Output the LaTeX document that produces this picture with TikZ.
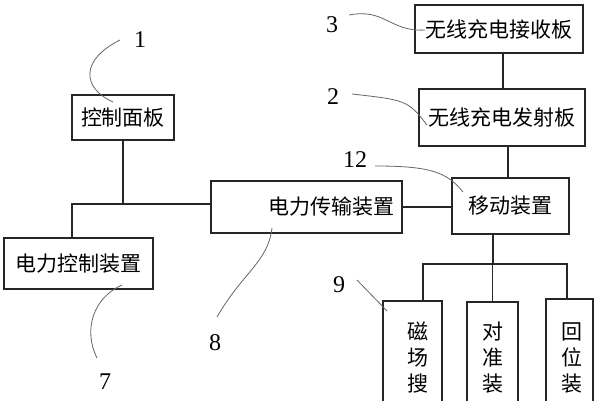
\documentclass[tikz,border=0pt]{standalone}
\usepackage{fontspec}
\newfontfamily\cjk{Noto Sans CJK SC}
\newfontfamily\numf{Liberation Serif}
\begin{document}
\begin{tikzpicture}[x=1pt,y=-1pt,
  box/.style={draw=black!85, line width=1.8pt, inner sep=0pt, font=\cjk\fontsize{21}{24}\selectfont},
  conn/.style={draw=black!85, line width=1.8pt},
  leader/.style={draw=black!60, line width=0.8pt},
  num/.style={font=\numf\fontsize{24}{26}\selectfont, inner sep=0pt},
  vtext/.style={font=\cjk\fontsize{21}{26}\selectfont, align=center, inner sep=0pt}]
\useasboundingbox (0,0) rectangle (598,400);
\fill[white] (0,0) rectangle (598,400);
% boxes
\node[box, minimum width=102pt, minimum height=45pt] (ctrl) at (123,117.5) {控制面板};
\node[box, minimum width=149pt, minimum height=51pt] (pctrl) at (78.5,263.5) {电力控制装置};
\node[box, minimum height=52pt, text width=175pt, inner xsep=8pt, align=right] (trans) at (306.5,207) {电力传输装置};
\node[box, minimum width=168pt, minimum height=48pt] (recv) at (499,29) {无线充电接收板};
\node[box, minimum width=166pt, minimum height=57pt] (emit) at (502,117.5) {无线充电发射板};
\node[box, minimum width=117pt, minimum height=56pt] (move) at (510.5,206) {移动装置};
\node[box, minimum width=59pt, minimum height=120pt] (mag) at (412.5,361) {};
\node[box, minimum width=51pt, minimum height=120pt] (align) at (492.5,362) {};
\node[box, minimum width=47pt, minimum height=120pt] (ret) at (569.5,359) {};
\node[vtext] (magt) at (418,358) {磁\\场\\搜};
\node[vtext] (alignt) at (493,358) {对\\准\\装};
\node[vtext] (rett) at (572,358) {回\\位\\装};
% connectors
\coordinate (jl) at (72,204);
\draw[conn] (ctrl.south) -- (ctrl.south |- jl);
\draw[conn] (pctrl.north -| jl) -- (jl) -- (jl -| trans.west);
\draw[conn] ([xshift=4pt]recv.south) -- ([xshift=4pt]recv.south |- emit.north);
\draw[conn] ([xshift=-2.5pt]move.north |- emit.south) -- ([xshift=-2.5pt]move.north);
\draw[conn] (trans.east) -- (trans.east -| move.west);
\coordinate (bus) at (493,264);
\draw[conn] (bus |- move.south) -- (bus);
\draw[conn] ([xshift=10.5pt]mag.north) |- (bus) -| ([xshift=-2.5pt]ret.north);
\draw[conn] (align.north) -- (align.north |- bus);
% labels and leaders
\node[num] (n1) at (140,40) {1};
\draw[leader] (120,40) .. controls (80,60) and (82,88) .. (113,102);
\node[num] (n3) at (332,25) {3};
\draw[leader] (349,15) .. controls (385,8) and (390,32) .. (425,30);
\node[num] (n2) at (333,97) {2};
\draw[leader] (352,94) .. controls (405,100) and (408,100) .. (427,125);
\node[num] (n12) at (355,160) {12};
\draw[leader] (375,166) .. controls (430,166) and (447,172) .. (463,192);
\node[num] (n9) at (339,285) {9};
\draw[leader] (357,280) -- (387,311);
\node[num] (n8) at (215,343) {8};
\draw[leader] (217,317) .. controls (243,272) and (268,262) .. (272,228);
\node[num] (n7) at (105,382) {7};
\draw[leader] (97,358) .. controls (83,330) and (93,298) .. (122,285);
\end{tikzpicture}
\end{document}
